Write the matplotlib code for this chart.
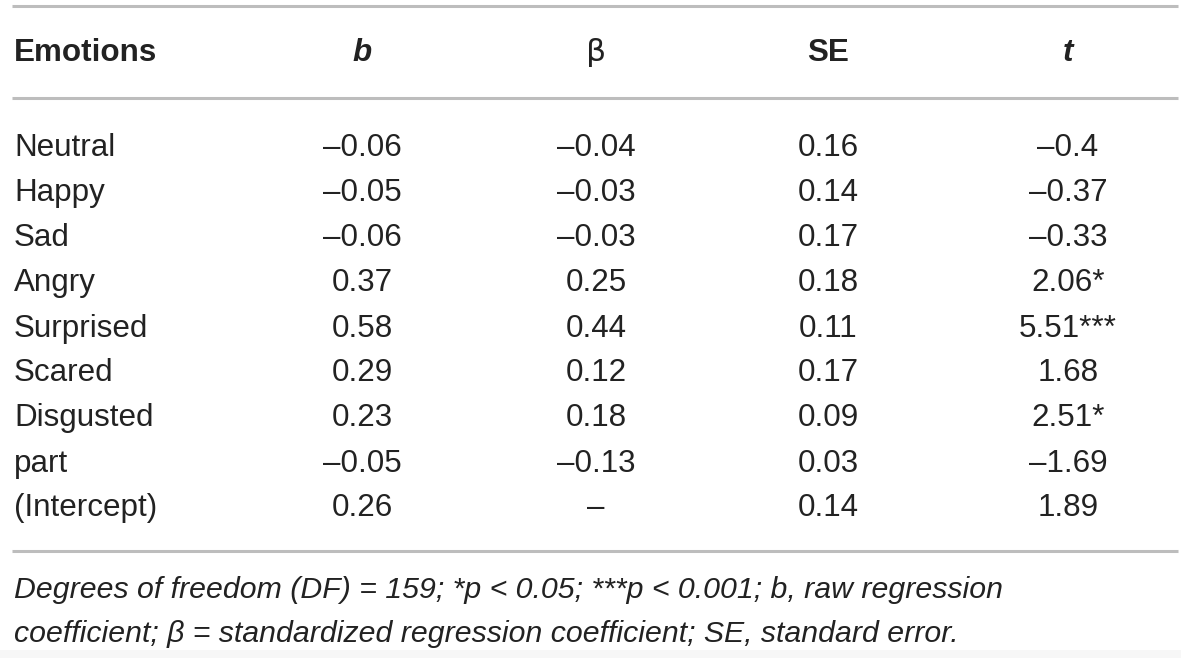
import matplotlib.pyplot as plt

plt.rcParams['font.family'] = ['Liberation Sans', 'DejaVu Sans']

emotions = ["Neutral", "Happy", "Sad", "Angry", "Surprised", "Scared",
            "Disgusted", "part", "(Intercept)"]
b_raw = ["–0.06", "–0.05", "–0.06", "0.37", "0.58", "0.29", "0.23", "–0.05", "0.26"]
beta = ["–0.04", "–0.03", "–0.03", "0.25", "0.44", "0.12", "0.18", "–0.13", "–"]
se = ["0.16", "0.14", "0.17", "0.18", "0.11", "0.17", "0.09", "0.03", "0.14"]
t_vals = ["–0.4", "–0.37", "–0.33", "2.06*", "5.51***", "1.68", "2.51*", "–1.69", "1.89"]

W, H = 1181, 658
fig = plt.figure(figsize=(W / 100, H / 100), dpi=100)
ax = fig.add_axes([0, 0, 1, 1])
ax.set_xlim(0, W)
ax.set_ylim(H, 0)
ax.axis('off')

fs = 22.6
col_x = [362, 596, 828, 1068]
row_base = [156, 201, 246, 291, 337, 381, 426, 472, 516]
dark = '#222222'
line_c = '#bdbdbd'

# rules
for y in (6, 98, 551):
    ax.plot([12, 1178], [y, y], color=line_c, lw=2.2, solid_capstyle='butt')
ax.axhspan(650, H, color='#f7f7f7', lw=0)

# header
hb = 61
ax.text(14, hb, "Emotions", fontsize=fs, fontweight='bold', color=dark, va='baseline')
ax.text(col_x[0], hb, "b", fontsize=fs, fontweight='bold', style='italic', color=dark, va='baseline', ha='center')
ax.text(col_x[1], hb, "β", fontsize=fs, color=dark, va='baseline', ha='center', family='DejaVu Sans')
ax.text(col_x[2], hb, "SE", fontsize=fs, fontweight='bold', color=dark, va='baseline', ha='center')
ax.text(col_x[3], hb, "t", fontsize=fs, fontweight='bold', style='italic', color=dark, va='baseline', ha='center')

for i, y in enumerate(row_base):
    ax.text(14, y, emotions[i], fontsize=fs, color=dark, va='baseline')
    for x, col in zip(col_x, (b_raw, beta, se, t_vals)):
        ax.text(x, y, col[i], fontsize=fs, color=dark, va='baseline', ha='center')

ax.text(14, 598, "Degrees of freedom (DF) = 159; *p < 0.05; ***p < 0.001; b, raw regression",
        fontsize=21.8, style='italic', color=dark, va='baseline')
ax.text(14, 642, "coefficient; β = standardized regression coefficient; SE, standard error.",
        fontsize=21.8, style='italic', color=dark, va='baseline')

fig.savefig("out.png", dpi=100)
